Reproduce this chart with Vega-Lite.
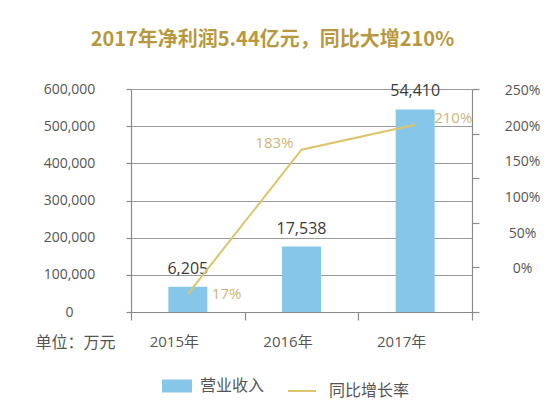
{
  "$schema": "https://vega.github.io/schema/vega-lite/v6.json",
  "width": 341,
  "height": 223,
  "autosize": "none",
  "padding": {"left": 131, "top": 89, "right": 76, "bottom": 92},
  "background": "white",
  "title": {
    "text": "2017年净利润5.44亿元，同比大增210%",
    "font": "Noto Sans CJK SC",
    "fontSize": 20,
    "fontWeight": "bold",
    "color": "#B8983F",
    "anchor": "middle",
    "dx": -29,
    "offset": 32
  },
  "config": {
    "view": {"stroke": null},
    "font": "Open Sans, Noto Sans CJK SC",
    "axis": {
      "labelFont": "Open Sans, Noto Sans CJK SC",
      "labelColor": "#555555",
      "domainColor": "#8a8a8a",
      "tickColor": "#8a8a8a",
      "gridColor": "#9a9a9a",
      "domainWidth": 1.2,
      "tickWidth": 1.2,
      "gridWidth": 1.2
    }
  },
  "data": {
    "values": [
      {"year": "2015年", "revenue": 68000, "revLabel": "6,205", "growth": 0.2, "growthLabel": "17%", "series": "营业收入", "line": "同比增长率"},
      {"year": "2016年", "revenue": 176000, "revLabel": "17,538", "growth": 1.82, "growthLabel": "183%", "series": "营业收入", "line": "同比增长率"},
      {"year": "2017年", "revenue": 545000, "revLabel": "54,410", "growth": 2.1, "growthLabel": "210%", "series": "营业收入", "line": "同比增长率"}
    ]
  },
  "encoding": {
    "x": {
      "field": "year",
      "type": "ordinal",
      "scale": {"paddingInner": 0, "paddingOuter": 0},
      "axis": {
        "title": "单位：万元",
        "titleX": -96,
        "titleY": 30,
        "titleAlign": "left",
        "titleBaseline": "middle",
        "titleFontSize": 16,
        "titleFontWeight": "normal",
        "titleColor": "#555555",
        "titleFont": "Noto Sans CJK SC",
        "labelAngle": 0,
        "tickBand": "extent",
        "tickSize": 8,
        "labelPadding": 14,
        "labelOffset": -14,
        "labelFontSize": 15
      }
    }
  },
  "layer": [
    {
      "encoding": {
        "y": {
          "field": "revenue",
          "type": "quantitative",
          "scale": {"domain": [0, 600000], "nice": false},
          "axis": {
            "values": [0, 100000, 200000, 300000, 400000, 500000, 600000],
            "format": ",.0f",
            "labelAlign": "center",
            "labelPadding": 57,
            "tickSize": 5,
            "labelFontSize": 14,
            "grid": true,
            "title": null
          }
        }
      },
      "layer": [
        {
          "mark": {"type": "bar", "size": 39},
          "encoding": {
            "fill": {
              "field": "series",
              "type": "nominal",
              "scale": {"range": ["#86C6E8"]},
              "legend": {
                "orient": "none",
                "legendX": 36,
                "legendY": 287,
                "title": null,
                "padding": 0,
                "symbolType": "M-1.5,-0.65H1.5V0.65H-1.5Z",
                "symbolSize": 400,
                "symbolStrokeWidth": 0,
                "labelOffset": 13,
                "labelFontSize": 16,
                "labelColor": "#555555",
                "labelFont": "Noto Sans CJK SC"
              }
            }
          }
        },
        {
          "mark": {"type": "text", "baseline": "bottom", "dy": -10, "fontSize": 16, "color": "#3a3a3a"},
          "encoding": {"text": {"field": "revLabel"}}
        }
      ]
    },
    {
      "encoding": {
        "y": {
          "field": "growth",
          "type": "quantitative",
          "scale": {"domain": [0, 2.5], "nice": false},
          "axis": {
            "orient": "right",
            "values": [0, 0.5, 1, 1.5, 2, 2.5],
            "labels": false,
            "tickSize": 7,
            "grid": false,
            "title": null
          }
        }
      },
      "layer": [
        {
          "mark": {"type": "line", "strokeWidth": 2},
          "encoding": {
            "stroke": {
              "field": "line",
              "type": "nominal",
              "scale": {"range": ["#DCC46A"]},
              "legend": {
                "orient": "none",
                "legendX": 156,
                "legendY": 287,
                "title": null,
                "padding": 0,
                "symbolType": "stroke",
                "symbolSize": 784,
                "symbolStrokeWidth": 2,
                "labelOffset": 12,
                "labelFontSize": 16,
                "labelColor": "#555555",
                "labelFont": "Noto Sans CJK SC"
              }
            }
          }
        },
        {
          "transform": [{"filter": "datum.year === '2015年'"}],
          "mark": {"type": "text", "align": "left", "baseline": "middle", "dx": 24, "fontSize": 15, "color": "#CDB57A"},
          "encoding": {"text": {"field": "growthLabel"}}
        },
        {
          "transform": [{"filter": "datum.year === '2016年'"}],
          "mark": {"type": "text", "align": "right", "baseline": "middle", "dx": -8, "dy": -7, "fontSize": 15, "color": "#CDB57A"},
          "encoding": {"text": {"field": "growthLabel"}}
        },
        {
          "transform": [{"filter": "datum.year === '2017年'"}],
          "mark": {"type": "text", "align": "left", "baseline": "middle", "dx": 19, "dy": -7, "fontSize": 15, "color": "#CDB57A"},
          "encoding": {"text": {"field": "growthLabel"}}
        }
      ]
    },
    {
      "mark": {"type": "point", "opacity": 0},
      "encoding": {
        "y": {
          "field": "growth",
          "type": "quantitative",
          "scale": {"domain": [-0.602, 2.519], "nice": false, "zero": false},
          "axis": {
            "orient": "right",
            "values": [0, 0.5, 1, 1.5, 2, 2.5],
            "format": ".0%",
            "ticks": false,
            "domain": false,
            "grid": false,
            "labelAlign": "center",
            "labelPadding": 50,
            "labelFontSize": 14,
            "title": null
          }
        }
      }
    }
  ],
  "resolve": {"scale": {"y": "independent", "fill": "independent", "stroke": "independent"}}
}
